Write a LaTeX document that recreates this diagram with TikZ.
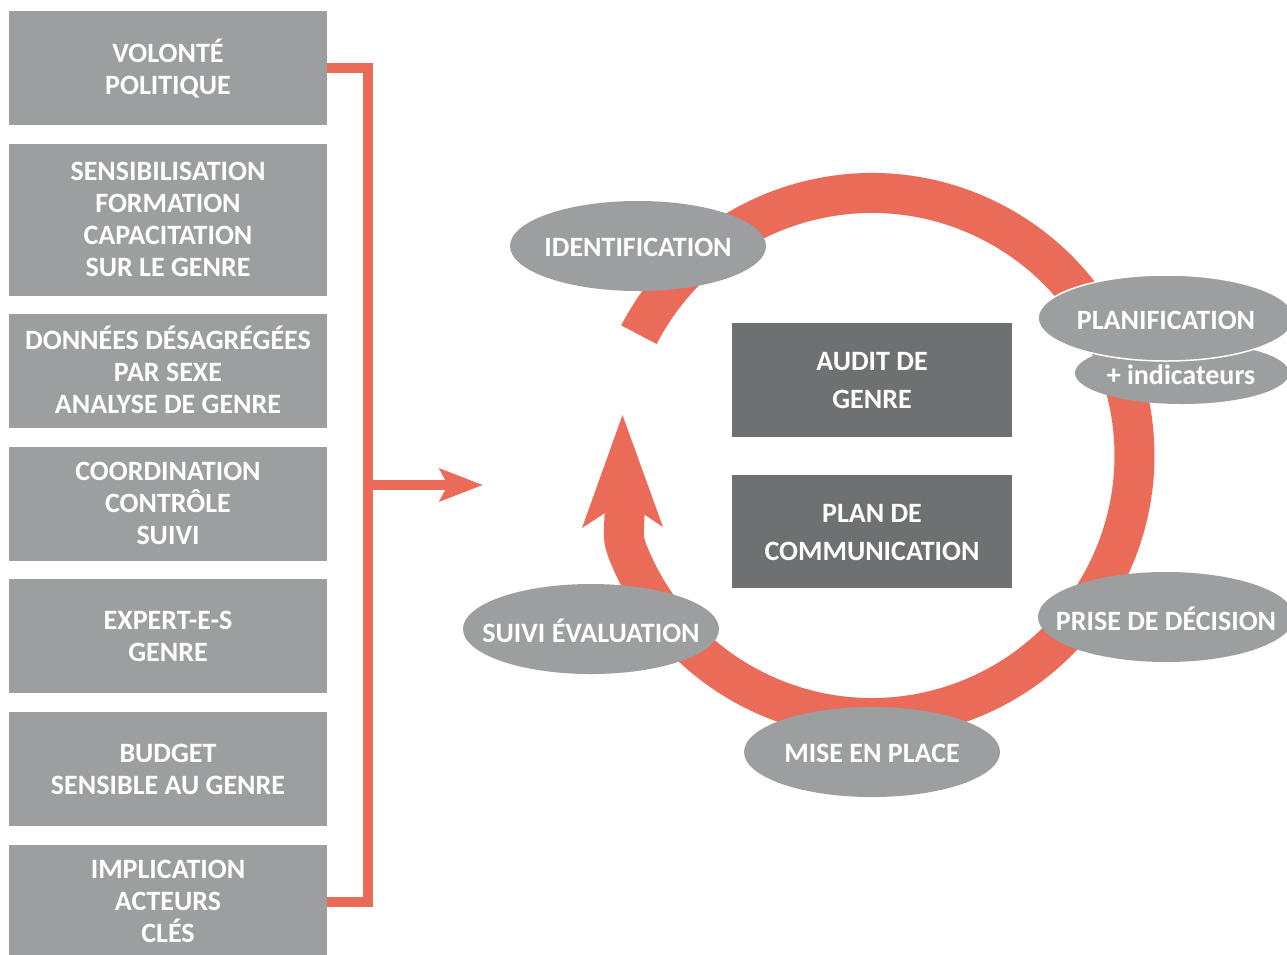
\documentclass[tikz,border=0pt]{standalone}
\usepackage{fontspec}
\setmainfont{Carlito}
\usetikzlibrary{shapes.geometric,arrows.meta}
\definecolor{boxgray}{RGB}{157,158,160}
\definecolor{panelgray}{RGB}{111,112,114}
\definecolor{accent}{RGB}{234,108,88}
\begin{document}
\begin{tikzpicture}[x=1pt,y=-1pt,
  lbox/.style={fill=boxgray, minimum width=318pt, minimum height=114pt, inner sep=0pt},
  dbox/.style={fill=panelgray, minimum width=280pt, minimum height=114pt, inner sep=0pt},
  ell/.style={ellipse, fill=boxgray, minimum width=256pt, minimum height=90pt, inner sep=0pt},
  etxt/.style={text=white, inner sep=0pt, yshift=-1.5pt, font=\bfseries\fontsize{28}{32}\selectfont},
  btxt/.style={text=white, inner sep=0pt, align=center, font=\bfseries\fontsize{28}{32}\selectfont},
  ptxt/.style={btxt, font=\bfseries\fontsize{28}{38}\selectfont},
  bracket/.style={accent, line width=10pt},
  ring/.style={accent, line width=40pt}]
\useasboundingbox (0,0) rectangle (1287,954);
\clip (0,0) rectangle (1287,954);
\fill[white] (0,0) rectangle (1287,954);

% left column of prerequisites (box first, then its caption)
\node[lbox] (b1) at (168,68) {};
\node[lbox, minimum height=152pt] (b2) at (168,220) {};
\node[lbox] (b3) at (168,371) {};
\node[lbox] (b4) at (168,504) {};
\node[lbox] (b5) at (168,636) {};
\node[lbox] (b6) at (168,769) {};
\node[lbox] (b7) at (168,902) {};
\node[btxt] at (168,68) {VOLONTÉ\\POLITIQUE};
\node[btxt] at (168,219) {SENSIBILISATION\\FORMATION\\CAPACITATION\\SUR LE GENRE};
\node[btxt] at (168,370) {DONNÉES DÉSAGRÉGÉES\\PAR SEXE\\ANALYSE DE GENRE};
\node[btxt] at (168,503) {COORDINATION\\CONTRÔLE\\SUIVI};
\node[btxt] at (168,636) {EXPERT-E-S\\GENRE};
\node[btxt] at (168,769) {BUDGET\\SENSIBLE AU GENRE};
\node[btxt] at (168,901) {IMPLICATION\\ACTEURS\\CLÉS};

% bracket gathering the column, with its arrow towards the cycle
\draw[bracket] (b1.east) -- ++(41,0) coordinate (bt) -- (bt |- b7.east) -- (b7.east);
\coordinate (tap) at (368,485);
\coordinate (tip) at (483,485);
\draw[bracket, -{Stealth[length=43pt,width=32pt,inset=8pt]}] (tap) -- (tip);

% the cycle ring and its arrow head
\coordinate (ctr) at (872,455.5);
\draw[ring] (638.9,334.7) arc[start angle=-152.6, end angle=159, radius=262.5]
  .. controls (621.5,535.6) and (625,526) .. (624.5,508);
\fill[accent] (622.5,415) -- (582,528) -- (605,513) -- (645,515) -- (663,527) -- cycle;

% central panels
\node[dbox] (audit) at (872,380) {};
\node[dbox, minimum height=113pt] (plan) at (872,531.5) {};
\node[ptxt] at (872,381) {AUDIT DE\\GENRE};
\node[ptxt] at (872,532.5) {PLAN DE\\COMMUNICATION};

% stages of the cycle
\node[ell] (e1) at (638,246) {};
\node[etxt] at (e1) {IDENTIFICATION};
\node[ell, minimum width=214pt, minimum height=62pt] (e2b) at (1182,373) {};
\node[ell, minimum height=86pt, draw=white, line width=1.5pt] (e2) at (1166,318) {};
\node[etxt] at (1166,319) {PLANIFICATION};
\node[etxt] at (1181,373) {+ indicateurs};
\node[ell] (e3) at (1166,617) {};
\node[etxt] at (e3) {PRISE DE DÉCISION};
\node[ell] (e4) at (872,752) {};
\node[etxt] at (e4) {MISE EN PLACE};
\node[ell] (e5) at (591,629) {};
\node[etxt] at (e5) {SUIVI ÉVALUATION};
\end{tikzpicture}
\end{document}
